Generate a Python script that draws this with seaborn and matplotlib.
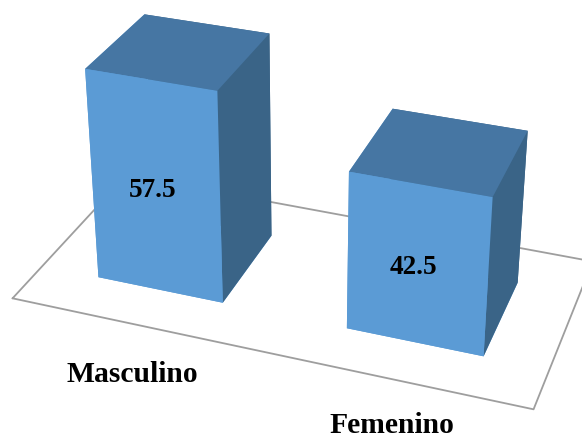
import matplotlib
matplotlib.use("Agg")
import matplotlib.pyplot as plt
import pandas as pd
import seaborn as sns
from mpl_toolkits.mplot3d import proj3d

# Share of respondents by sex
categories = ["Masculino", "Femenino"]
percentages = [57.5, 42.5]

sns.set_theme(style="white", rc={"font.family": ["Liberation Serif", "DejaVu Serif"]})

FRONT, TOP, SIDE = sns.color_palette(["#5B9BD5", "#4676A3", "#3A6487"])
FLOOR_LINE = "#9E9E9E"

frame = pd.DataFrame({"sexo": categories, "porcentaje": percentages})
frame["left"] = [0.1197, 0.6228]

BAR_WIDTH, BAR_DEPTH, BAR_OFFSET = 0.2577, 0.5103, 0.2419

WIDTH, HEIGHT, SIDE_PX = 582, 439, 900
SHIFT_X, SHIFT_Y = 4.7575, -106.6894

fig = plt.figure(figsize=(WIDTH / 100, HEIGHT / 100), dpi=100, facecolor="white")
ax = fig.add_axes(
    [((WIDTH - SIDE_PX) / 2 + SHIFT_X) / WIDTH,
     ((HEIGHT - SIDE_PX) / 2 - SHIFT_Y) / HEIGHT,
     SIDE_PX / WIDTH, SIDE_PX / HEIGHT],
    projection="3d", computed_zorder=False,
)
ax.set_xlim(0, 1)
ax.set_ylim(0, 1)
ax.set_zlim(0, 100)
ax.view_init(elev=26.9656, azim=-70.1645, roll=-0.0531)
ax.set_proj_type("persp", focal_length=0.3564)
ax.set_box_aspect((1, 0.5001, 0.7729), zoom=0.8085)
ax.set_axis_off()
ax.patch.set_alpha(0)

# Floor outline under the columns
ax.plot([0, 1, 1, 0, 0], [0, 0, 1, 1, 0], [0, 0, 0, 0, 0],
        color=FLOOR_LINE, lw=1.3, zorder=1)

# Face order in bar3d: bottom, top, front, back, left, right
face_colors = [FRONT, TOP, FRONT, SIDE, FRONT, SIDE]
camera = ax.get_proj()
for row in frame.itertuples():
    ax.bar3d(row.left, BAR_OFFSET, 0, BAR_WIDTH, BAR_DEPTH, row.porcentaje,
             color=face_colors, shade=False, linewidth=0, zorder=2)
    # Value label at the middle of the column's front face
    label_x, label_y, _ = proj3d.proj_transform(
        row.left + BAR_WIDTH / 2 - 0.006, BAR_OFFSET, row.porcentaje / 2 - 0.6, camera)
    ax.text2D(label_x, label_y, f"{row.porcentaje:.1f}", transform=ax.transData,
              ha="center", va="center", fontsize=19.5, fontweight="bold",
              color="black", zorder=3)

# Category names sit below the floor's front edge
for name, x_px, y_px in zip(categories, [132, 391.5], [382.5, 433]):
    fig.text(x_px / WIDTH, 1 - y_px / HEIGHT, name, ha="center", va="baseline",
             fontsize=21.3, fontweight="bold", color="black")

fig.savefig("out.png", dpi=100, facecolor="white")
